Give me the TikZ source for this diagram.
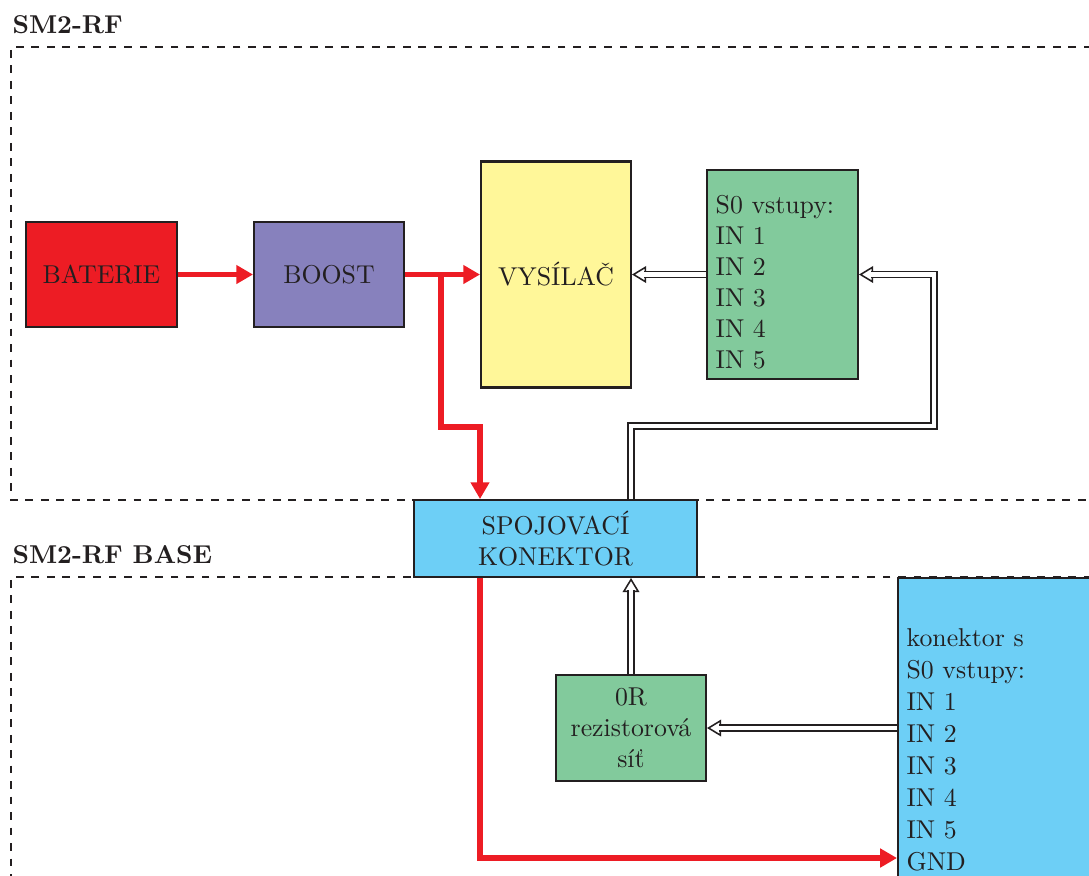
\documentclass[tikz,border=0pt]{standalone}
\usepackage{fontspec}
\usetikzlibrary{arrows.meta,calc}
\definecolor{cRed}{HTML}{ED1C24}
\definecolor{cPurple}{HTML}{8781BD}
\definecolor{cYellow}{HTML}{FFF799}
\definecolor{cGreen}{HTML}{82CA9C}
\definecolor{cCyan}{HTML}{6DCFF6}
\definecolor{cDark}{HTML}{231F20}
\begin{document}
\begin{tikzpicture}[x=0.3876pt,y=-0.3876pt,
  box/.style={draw=cDark, line width=0.8pt, inner sep=3.33pt, text=cDark},
  redarrow/.style={draw=cRed, line width=2.3pt, -{Triangle[length=6.5pt,width=7pt]}},
  dbl/.style={draw=cDark, double=white, double distance=1.8pt, line width=0.6pt},
  otip/.style={draw=cDark, line width=0.6pt, -{Triangle[length=5.5pt,width=6.5pt,fill=white]}},
  frame/.style={draw=cDark, dashed, line width=0.6pt},
  lbl/.style={font=\bfseries, text=cDark, anchor=base west, inner sep=0pt}]
\clip (0,0) rectangle (1089,875);
% frames
\draw[frame] (1200,47) -- (11,47) -- (11,500) -- (1200,500);
\draw[frame] (1200,577) -- (11,577) -- (11,900);
\node[lbl] (t1) at (12,33) {SM2-RF};
\node[lbl] (t2) at (12,563) {SM2-RF BASE};
% boxes
\node[box, fill=cRed, minimum width=58.5pt, minimum height=40.7pt] (bat) at (101.5,274.5) {BATERIE};
\node[box, fill=cPurple, minimum width=58.1pt, minimum height=40.7pt] (boost) at (329,274.5) {BOOST};
\node[box, fill=cYellow, minimum width=58.1pt, minimum height=87.6pt] (vys) at (556,274.5) {VYSÍLAČ};
\node[box, fill=cGreen, minimum width=58.5pt, minimum height=81pt, text width=51.8pt, align=left] (s0) at (782.5,274.5) {\rule{0pt}{13pt}S0 vstupy:\\IN 1\\IN 2\\IN 3\\IN 4\\IN 5};
\node[box, fill=cCyan, minimum width=109.7pt, minimum height=29.8pt, align=center] (con) at (555.5,538.5) {SPOJOVACÍ\\KONEKTOR};
\node[box, fill=cGreen, minimum width=58.1pt, minimum height=41.1pt, align=center] (r0) at (631,728) {0R\\rezistorová\\síť};
\node[box, fill=cCyan, anchor=north west, minimum height=133.1pt, text width=100pt, align=left, font=\fontsize{10}{12.4}\selectfont] (rb) at (897,577) {konektor s\\S0 vstupy:\\IN 1\\IN 2\\IN 3\\IN 4\\IN 5\\GND};
% red power arrows
\draw[redarrow] (bat.east) -- (boost.west);
\draw[redarrow] (boost.east) -- (vys.west);
\coordinate (j) at (441,274.5);
\coordinate (k1) at (480,427);
\draw[redarrow] (j) |- (k1) -- (k1 |- con.north);
\coordinate (k2) at (480,858);
\draw[redarrow] (k2 |- con.south) -- (k2) -- (k2 -| rb.west);
% double signal arrows
\coordinate (d1) at (631,426);
\coordinate (d2) at (934,426);
\draw[otip] ($(vys.east)+(5.5pt,0)$) -- (vys.east);
\draw[dbl, shorten >=4.8pt] (s0.west) -- (vys.east);
\draw[otip] ($(s0.east)+(5.5pt,0)$) -- (s0.east);
\draw[dbl, shorten >=4.8pt] (con.north -| d1) -- (d1) -- (d2) |- (s0.east);
\draw[otip] ($(con.south -| r0.north)+(0,-5.5pt)$) -- (con.south -| r0.north);
\draw[dbl, shorten >=4.8pt] (r0.north) -- (con.south -| r0.north);
\draw[otip] ($(r0.east)+(5.5pt,0)$) -- (r0.east);
\draw[dbl, shorten >=4.8pt] (rb.west |- r0.east) -- (r0.east);
\end{tikzpicture}
\end{document}
